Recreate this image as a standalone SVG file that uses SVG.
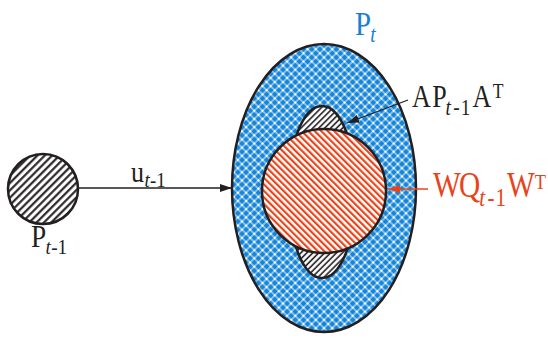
<svg xmlns="http://www.w3.org/2000/svg" width="548" height="343" viewBox="0 0 548 343">
<style>
.outline{stroke:#231f20;stroke-width:2.5}
.lbl{font-family:"Liberation Serif","Times New Roman",serif}
.it{font-style:italic}
.conn{stroke:#231f20;stroke-width:1.3;fill:none}
</style>
<defs>
<pattern id="hatchBlack" patternUnits="userSpaceOnUse" width="5.2" height="5.2" patternTransform="rotate(45)">
<rect width="5.2" height="5.2" fill="#fff"/>
<line x1="1.2" y1="0" x2="1.2" y2="5.2" stroke="#231f20" stroke-width="2.1"/>
</pattern>
<pattern id="hatchBlackSmall" patternUnits="userSpaceOnUse" width="4.2" height="4.2" patternTransform="rotate(45)">
<rect width="4.2" height="4.2" fill="#fff"/>
<line x1="1" y1="0" x2="1" y2="4.2" stroke="#231f20" stroke-width="1.6"/>
</pattern>
<pattern id="hatchOrange" patternUnits="userSpaceOnUse" width="4.6" height="4.6" patternTransform="rotate(-45)">
<rect width="4.6" height="4.6" fill="#fff"/>
<line x1="1.1" y1="0" x2="1.1" y2="4.6" stroke="#e8441a" stroke-width="2.2"/>
</pattern>
<pattern id="crossBlue" patternUnits="userSpaceOnUse" width="5.8" height="5.8" patternTransform="rotate(45)">
<rect width="5.8" height="5.8" fill="#1585d8"/>
<line x1="0" y1="2.9" x2="5.8" y2="2.9" stroke="#fff" stroke-width="0.9"/>
<line x1="2.9" y1="0" x2="2.9" y2="5.8" stroke="#fff" stroke-width="0.9"/>
<rect x="1.9" y="1.9" width="2" height="2" fill="#fff"/>
</pattern>
<marker id="arrBlack" viewBox="0 0 12 8" refX="12" refY="4" markerWidth="12" markerHeight="8" markerUnits="userSpaceOnUse" orient="auto">
<path d="M0,0 L12,4 L0,8 Z" fill="#231f20"/>
</marker>
<marker id="arrOrange" viewBox="0 0 12 8" refX="12" refY="4" markerWidth="12" markerHeight="8" markerUnits="userSpaceOnUse" orient="auto">
<path d="M0,0 L12,4 L0,8 Z" fill="#e8441a"/>
</marker>
</defs>

<g id="Pt">
<ellipse cx="324" cy="188" rx="92" ry="144" fill="url(#crossBlue)" class="outline"/>
<text class="lbl" transform="translate(355,35) scale(0.85,1)" font-size="34" fill="#1b7fd0"><tspan x="0" y="0">P</tspan><tspan class="it" font-size="23" x="18" y="7">t</tspan></text>
</g>

<g id="APA">
<ellipse cx="322" cy="192" rx="34" ry="86" fill="url(#hatchBlackSmall)" class="outline"/>
<text class="lbl" transform="translate(412,107) scale(0.84,1)" font-size="31" fill="#231f20"><tspan x="0" y="0">A</tspan><tspan x="24" y="0">P</tspan><tspan class="it" font-size="23" x="40" y="8">t</tspan><tspan font-size="23" x="49" y="8">-</tspan><tspan font-size="23" x="58" y="8">1</tspan><tspan x="72" y="0">A</tspan><tspan font-size="21" x="96" y="-9">T</tspan></text>
</g>

<g id="WQW">
<circle cx="324" cy="191" r="62" fill="url(#hatchOrange)" class="outline"/>
<text class="lbl" transform="translate(433,197) scale(0.84,1)" font-size="35" fill="#e8441a"><tspan x="0" y="0">W</tspan><tspan x="31" y="0">Q</tspan><tspan class="it" font-size="25" x="55" y="9">t</tspan><tspan font-size="25" x="65" y="9">-</tspan><tspan font-size="25" x="74.5" y="9">1</tspan><tspan x="88" y="0">W</tspan><tspan font-size="22" x="121" y="-8">T</tspan></text>
</g>

<g id="Pt1">
<circle cx="43" cy="189" r="35" fill="url(#hatchBlack)" class="outline"/>
<text class="lbl" transform="translate(31,247) scale(0.88,1)" font-size="31" fill="#231f20"><tspan x="0" y="0">P</tspan><tspan class="it" font-size="22" x="16.5" y="7">t</tspan><tspan font-size="22" x="23" y="7">-</tspan><tspan font-size="22" x="30" y="7">1</tspan></text>
</g>

<g id="connectors">
<line class="conn" x1="79" y1="188" x2="232" y2="188" marker-end="url(#arrBlack)"/>
<text class="lbl" transform="translate(131,182) scale(0.9,1)" font-size="29" fill="#231f20"><tspan x="0" y="0">u</tspan><tspan class="it" font-size="21" x="15" y="5">t</tspan><tspan font-size="21" x="21" y="5">-</tspan><tspan font-size="21" x="28" y="5">1</tspan></text>
<line class="conn" x1="408" y1="100" x2="347" y2="123" marker-end="url(#arrBlack)"/>
<line x1="428" y1="189" x2="388" y2="189" stroke="#e8441a" stroke-width="1.3" marker-end="url(#arrOrange)"/>
</g>
</svg>
